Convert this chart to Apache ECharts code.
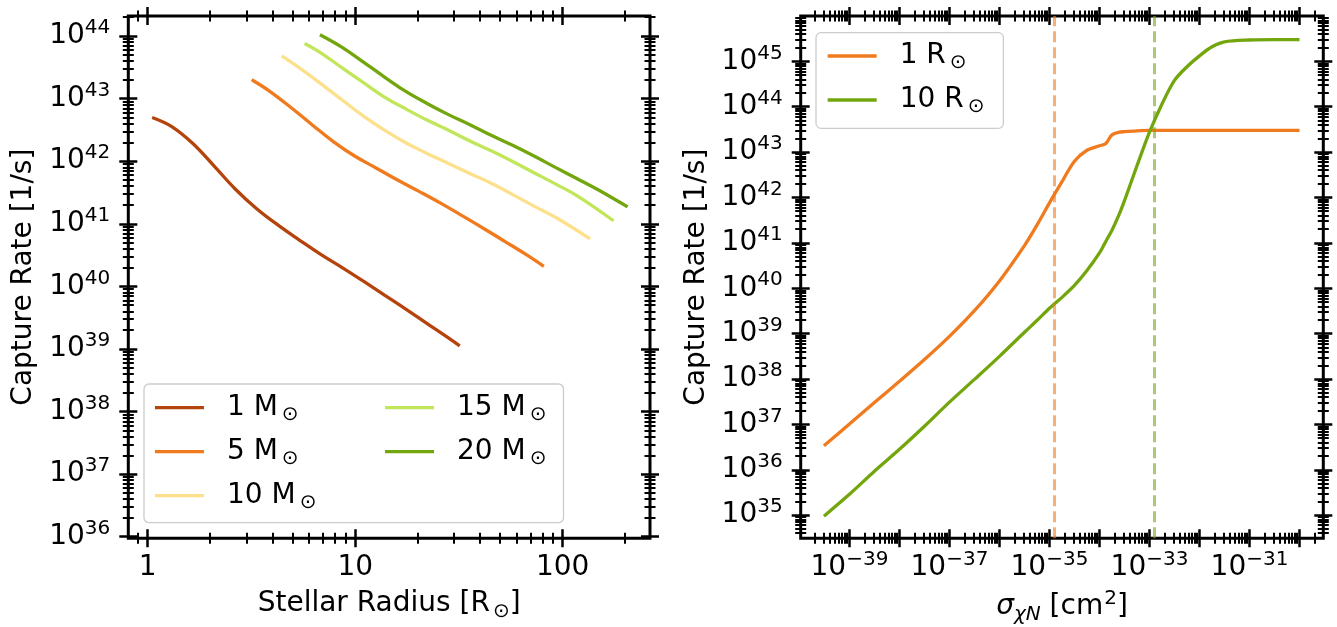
<!DOCTYPE html>
<html>
<head>
<meta charset="utf-8">
<title>Capture rate</title>
<script src="https://cdn.jsdelivr.net/npm/echarts@6.0.0/dist/echarts.min.js"></script>
<style>
  html, body { margin: 0; padding: 0; background: #fff; }
  #main { width: 1337px; height: 627px; }
</style>
</head>
<body>
<div id="main"></div>
<script>
// left panel: capture rate against stellar radius, one line per stellar mass
var massNames = ['1 M⊙', '5 M⊙', '10 M⊙', '15 M⊙', '20 M⊙'];
var massColors = ['#b4440c', '#f07a1e', '#fde08c', '#c2e65a', '#73a60d'];

var radius1 = [1.05, 1.30, 1.64, 2.08, 2.64, 3.35, 4.25, 5.38, 6.82, 8.65, 11.0, 13.9, 17.6, 22.4, 26.9, 31.9];
var rate1 = [5.0e42, 3.6e42, 1.95e42, 8.5e41, 3.6e41, 1.74e41, 9.5e40, 5.5e40, 3.24e40, 2.0e40, 1.2e40, 7.2e39, 4.3e39, 2.5e39, 1.66e39, 1.12e39];

var radius5 = [3.17, 3.86, 4.90, 6.21, 7.87, 9.98, 12.6, 16.0, 20.3, 25.8, 32.7, 41.4, 52.5, 66.5, 81.1];
var rate5 = [2.0e43, 1.32e43, 7.2e42, 3.8e42, 2.04e42, 1.20e42, 7.8e41, 5.0e41, 3.3e41, 2.14e41, 1.35e41, 8.5e40, 5.25e40, 3.24e40, 2.09e40];

var radius10 = [4.42, 5.38, 6.82, 8.65, 11.0, 13.9, 17.6, 22.3, 28.3, 35.9, 45.5, 57.7, 73.1, 92.7, 135.5];
var rate10 = [4.8e43, 3.1e43, 1.74e43, 9.5e42, 5.2e42, 3.1e42, 1.95e42, 1.32e42, 9.1e41, 6.3e41, 4.4e41, 2.9e41, 1.9e41, 1.26e41, 5.75e40];

var radius15 = [5.70, 6.82, 8.65, 11.0, 13.9, 17.6, 22.3, 28.3, 35.9, 45.5, 57.7, 73.1, 92.7, 117.5, 175.8];
var rate15 = [7.6e43, 5.4e43, 3.1e43, 1.78e43, 1.05e43, 6.8e42, 4.5e42, 3.1e42, 2.09e42, 1.45e42, 9.8e41, 6.5e41, 4.3e41, 2.8e41, 1.12e41];

var radius20 = [6.76, 8.65, 11.0, 13.9, 17.6, 22.3, 28.3, 35.9, 45.5, 57.7, 73.1, 92.7, 117.5, 148.9, 205.6];
var rate20 = [1.05e44, 6.6e43, 3.8e43, 2.19e43, 1.29e43, 8.3e42, 5.5e42, 3.8e42, 2.57e42, 1.78e42, 1.20e42, 7.9e41, 5.25e41, 3.47e41, 1.86e41];

// right panel: capture rate against cross section, for two radii
var radiusNames = ['1 R⊙', '10 R⊙'];
var radiusColors = ['#f07a1e', '#73a60d'];
var sigma = [3.09e-40, 1e-39, 3.16e-39, 1e-38, 3.16e-38, 1e-37, 3.16e-37, 1e-36, 3.16e-36, 5.62e-36,
  1e-35, 1.78e-35, 3.16e-35, 5.62e-35, 1e-34, 1.26e-34, 1.41e-34, 1.78e-34, 2.51e-34, 3.16e-34,
  5.62e-34, 1e-33, 1.78e-33, 3.16e-33, 5.62e-33, 1e-32, 1.78e-32, 3.16e-32, 1e-31, 3.16e-31, 1e-30];
var rateR1 = [3.39e36, 1.02e37, 3.02e37, 8.9e37, 2.69e38, 8.7e38, 3.2e39, 1.45e40, 8.7e40, 2.45e41,
  7.6e41, 2.24e42, 6.3e42, 1.10e43, 1.38e43, 1.48e43, 1.66e43, 2.4e43, 2.75e43, 2.82e43,
  2.95e43, 3.02e43, 3.02e43, 3.02e43, 3.02e43, 3.02e43, 3.02e43, 3.02e43, 3.02e43, 3.02e43, 3.02e43];
var rateR10 = [9.5e34, 2.88e35, 9.3e35, 2.82e36, 9.1e36, 3.09e37, 9.8e37, 3.16e38, 1.07e39, 1.95e39,
  3.63e39, 6.3e39, 1.15e40, 2.45e40, 6.0e40, 9.5e40, 1.2e41, 1.9e41, 4.4e41, 8.5e41,
  5.0e42, 2.75e43, 1.15e44, 3.8e44, 7.6e44, 1.32e45, 2.09e45, 2.69e45, 2.95e45, 3.02e45, 3.02e45];
var dashSigma = [1.22e-35, 1.22e-33];

// axis ranges and tick labels
var leftX = [0.806, 263.5];
var leftY = [9.44e35, 2.09e44];
var rightX = [1.06e-40, 2.99e-30];
var rightY = [3.09e34, 9.98e45];
var leftXLabels = [1, 10, 100];
var leftYLabels = [1e36, 1e37, 1e38, 1e39, 1e40, 1e41, 1e42, 1e43, 1e44];
var rightXMajors = [1e-39, 1e-38, 1e-37, 1e-36, 1e-35, 1e-34, 1e-33, 1e-32, 1e-31, 1e-30];
var rightXLabels = [1e-39, 1e-37, 1e-35, 1e-33, 1e-31];
var rightYLabels = [1e35, 1e36, 1e37, 1e38, 1e39, 1e40, 1e41, 1e42, 1e43, 1e44, 1e45];

var FONT = 'DejaVu Sans';

// the log scale rounds values as tiny as 1e-40 to zero, so the cross-section
// axis is a value axis on log10(sigma) instead
var lg = Math.log10;

// minor ticks 2..9 of each decade
function minorTicks(lo, hi) {
  var out = [];
  for (var k = lo; k <= hi; k++) {
    for (var m = 2; m <= 9; m++) out.push(m * Math.pow(10, k));
  }
  return out;
}

function zip(xs, ys) {
  return xs.map(function (x, i) { return [x, ys[i]]; });
}

var tickRich = {
  b: { fontFamily: FONT, fontSize: 28, lineHeight: 36, color: '#000' },
  e: { fontFamily: FONT, fontSize: 20, lineHeight: 20, padding: [0, 0, 16, 0], color: '#000' }
};

function expText(p) {
  return '{b|10}{e|' + (p < 0 ? '\u2212' + (-p) : p) + '}';
}
function expLabel(v) { return expText(Math.round(lg(v))); }

// ticks go across the spine (in and out), so each side gets a major and a minor axis
function sideAxes(grid, pos, type, range, majors, minors, extra) {
  var base = {
    gridIndex: grid, type: type, min: range[0], max: range[1], position: pos,
    axisLine: { show: false, onZero: false }, splitLine: { show: false }, minorTick: { show: false }
  };
  var major = Object.assign({}, base, {
    offset: -9,
    axisTick: { show: true, inside: false, length: 18, customValues: majors, lineStyle: { color: '#000', width: 2.5 } },
    axisLabel: { show: false }
  }, extra || {});
  var minor = Object.assign({}, base, {
    offset: -5.5,
    axisTick: { show: true, inside: false, length: 11, customValues: minors, lineStyle: { color: '#000', width: 2 } },
    axisLabel: { show: false }
  });
  return [major, minor];
}

var nameRich = {
  t: { fontFamily: FONT, fontSize: 28, lineHeight: 36, color: '#000' },
  s: { fontFamily: FONT, fontSize: 20, lineHeight: 20, padding: [16, 0, 0, 3], color: '#000' },
  i: { fontFamily: FONT, fontStyle: 'italic', fontSize: 28, lineHeight: 36, color: '#000' },
  si: { fontFamily: FONT, fontStyle: 'italic', fontSize: 20, lineHeight: 20, padding: [16, 0, 0, 0], color: '#000' },
  p: { fontFamily: FONT, fontSize: 20, lineHeight: 20, padding: [0, 0, 16, 1], color: '#000' }
};

var leftXMinors = [0.9].concat(minorTicks(0, 1), [200]);
var rightXLog = rightX.map(lg);
var rightXMajorsLog = rightXMajors.map(function (v) { return Math.round(lg(v)); });
var rightXMinorsLog = minorTicks(-40, -30).map(lg);

var xAxes = [].concat(
  sideAxes(0, 'bottom', 'log', leftX, leftXLabels, leftXMinors, {
    axisLabel: { show: true, customValues: leftXLabels, margin: 20,
      formatter: function (v) { return '{b|' + Math.round(v) + '}'; }, rich: tickRich },
    name: '{t|Stellar Radius [R}{s|⊙}{t|]}', nameLocation: 'middle', nameGap: 56, nameMoveOverlap: false,
    nameTextStyle: { rich: nameRich }
  }),
  sideAxes(0, 'top', 'log', leftX, leftXLabels, leftXMinors),
  sideAxes(1, 'bottom', 'value', rightXLog, rightXMajorsLog, rightXMinorsLog, {
    axisLabel: { show: true, customValues: rightXLabels.map(function (v) { return Math.round(lg(v)); }), margin: 20,
      formatter: function (v) { return expText(Math.round(v)); }, rich: tickRich },
    name: '{i|σ}{si|χN}{t| [cm}{p|2}{t|]}', nameLocation: 'middle', nameGap: 59, nameMoveOverlap: false,
    nameTextStyle: { rich: nameRich }
  }),
  sideAxes(1, 'top', 'value', rightXLog, rightXMajorsLog, rightXMinorsLog)
);

var yAxes = [].concat(
  sideAxes(0, 'left', 'log', leftY, leftYLabels, minorTicks(35, 44), {
    axisLabel: { show: true, customValues: leftYLabels, margin: 27, formatter: expLabel, rich: tickRich },
    name: 'Capture Rate [1/s]', nameLocation: 'middle', nameGap: 96, nameMoveOverlap: false,
    nameTextStyle: { fontFamily: FONT, fontSize: 28, color: '#000', lineHeight: 36 }
  }),
  sideAxes(0, 'right', 'log', leftY, leftYLabels, minorTicks(35, 44)),
  sideAxes(1, 'left', 'log', rightY, rightYLabels, minorTicks(34, 45), {
    axisLabel: { show: true, customValues: rightYLabels, margin: 27, formatter: expLabel, rich: tickRich },
    name: 'Capture Rate [1/s]', nameLocation: 'middle', nameGap: 95, nameMoveOverlap: false,
    nameTextStyle: { fontFamily: FONT, fontSize: 28, color: '#000', lineHeight: 36 }
  }),
  sideAxes(1, 'right', 'log', rightY, rightYLabels, minorTicks(34, 45))
);

var leftData = [[radius1, rate1], [radius5, rate5], [radius10, rate10], [radius15, rate15], [radius20, rate20]];
var series = leftData.map(function (d, i) {
  return {
    name: massNames[i], type: 'line', xAxisIndex: 0, yAxisIndex: 0,
    data: zip(d[0], d[1]), symbol: 'none', smooth: 0.4,
    lineStyle: { color: massColors[i], width: 3.3 }, itemStyle: { color: massColors[i] }
  };
});
[rateR1, rateR10].forEach(function (r, i) {
  series.push({
    name: radiusNames[i], type: 'line', xAxisIndex: 4, yAxisIndex: 4,
    data: zip(sigma.map(lg), r), symbol: 'none', smooth: 0.3,
    lineStyle: { color: radiusColors[i], width: 3.3 }, itemStyle: { color: radiusColors[i] },
    markLine: {
      silent: true, symbol: 'none', label: { show: false }, animation: false,
      lineStyle: { color: radiusColors[i], opacity: 0.6, type: [11, 5], width: 3 },
      data: [{ xAxis: lg(dashSigma[i]) }]
    }
  });
});

var legendRich = {
  g: { width: 18 },
  t: { fontFamily: FONT, fontSize: 28, lineHeight: 34, color: '#000' },
  s: { fontFamily: FONT, fontSize: 20, lineHeight: 20, padding: [14, 0, 0, 4], color: '#000' },
  sr: { fontFamily: FONT, fontSize: 20, lineHeight: 20, padding: [14, 57, 0, 4], color: '#000' }
};

function legendLabel(name) {
  var idx = massNames.indexOf(name);
  var sub = (idx >= 0 && idx < 3) ? 'sr' : 's';
  return '{g|}{t|' + name.slice(0, -1) + '}{' + sub + '|' + name.slice(-1) + '}';
}

var legendBox = {
  orient: 'vertical', selectedMode: false, itemWidth: 49, itemHeight: 14, itemGap: 10,
  backgroundColor: 'rgba(255,255,255,0.8)', borderColor: '#cccccc', borderWidth: 1.3, borderRadius: 5,
  itemStyle: { opacity: 0, color: 'rgba(0,0,0,0)', borderWidth: 0 },
  lineStyle: { width: 3.3 },
  formatter: legendLabel, textStyle: { rich: legendRich }
};

var myChart = echarts.init(document.getElementById('main'));
myChart.setOption({
  animation: false,
  grid: [
    { left: 128.3, top: 16, width: 521.7, height: 522.3, show: true, borderColor: '#000', borderWidth: 3, outerBoundsMode: 'none' },
    { left: 800.7, top: 16, width: 522.6, height: 522.3, show: true, borderColor: '#000', borderWidth: 3, outerBoundsMode: 'none' }
  ],
  legend: [
    Object.assign({}, legendBox, { data: massNames, left: 144, top: 384, height: 130, padding: [6.7, 17, 10, 9.3] }),
    Object.assign({}, legendBox, { data: radiusNames, left: 816, top: 32.7, padding: [6.3, 19, 11.3, 10] })
  ],
  xAxis: xAxes,
  yAxis: yAxes,
  series: series
});
</script>
</body>
</html>
